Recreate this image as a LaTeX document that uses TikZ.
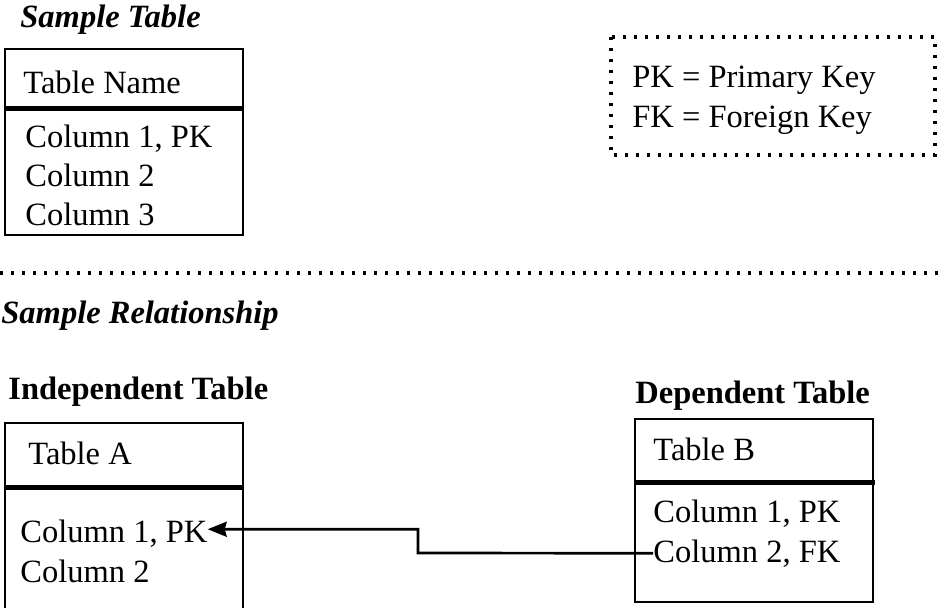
\documentclass[tikz,border=0pt]{standalone}
\usepackage{fontspec}
\setmainfont{Liberation Serif}
\usetikzlibrary{arrows.meta}

\begin{document}
\begin{tikzpicture}[x=0.5pt,y=-0.5pt,
  every node/.style={inner sep=0pt,anchor=base west,font=\fontsize{16.25}{19}\selectfont},
  tablebox/.style={draw,line width=1.4pt},
  headrule/.style={line width=2.5pt},
  dotline/.style={line width=1.6pt,dash pattern=on 1.6pt off 3.9pt},
  heading/.style={font=\fontsize{16.25}{19}\selectfont\bfseries\itshape},
  tabletitle/.style={font=\fontsize{16.25}{19}\selectfont\bfseries},
  fkarrow/.style={line width=1.35pt,-{Stealth[length=9.5pt,width=7.5pt,inset=1pt]}}]
\useasboundingbox (0,0) rectangle (940,607);
% Draw the sample table
\node[heading] (samplehead) at (20,27) {Sample Table};
\draw[tablebox] (5,49) rectangle (243,235);
\draw[headrule] (5,108) -- (243,108);
\node (samplename) at (23,93) {Table Name};
\node (samplecol1) at (25,147) {Column 1, PK};
\node (samplecol2) at (25,186) {Column 2};
\node (samplecol3) at (25,225) {Column 3};
% Draw the legend
\draw[dotline] (611,37) rectangle (935,155);
\node (legendpk) at (632,87) {PK = Primary Key};
\node (legendfk) at (632,127) {FK = Foreign Key};
% Draw the separator
\draw[dotline] (0,273) -- (940,273);
\node[heading] (relhead) at (1,323) {Sample Relationship};
% Draw the independent table
\node[tabletitle] (indephead) at (8,399) {Independent Table};
\draw[tablebox] (5,423) rectangle (243,640);
\draw[headrule] (5,487) -- (243,487);
\node (tablea) at (28,464) {Table A};
\node (colA1) at (20,542) {Column 1, PK};
\node (colA2) at (20,582) {Column 2};
% Draw the dependent table
\node[tabletitle] (dephead) at (635,403) {Dependent Table};
\draw[tablebox] (635,419) rectangle (873,602);
\draw[headrule] (635,482) -- (875,482);
\node (tableb) at (653,460) {Table B};
\node (colB1) at (653,522) {Column 1, PK};
\node (colB2) at (653,562) {Column 2, FK};
% Draw the foreign key connector
\coordinate (jog) at (418,553);
\draw[fkarrow] (colB2.west) -- (jog) |- ([yshift=2pt]colA1.east);
\end{tikzpicture}
\end{document}
